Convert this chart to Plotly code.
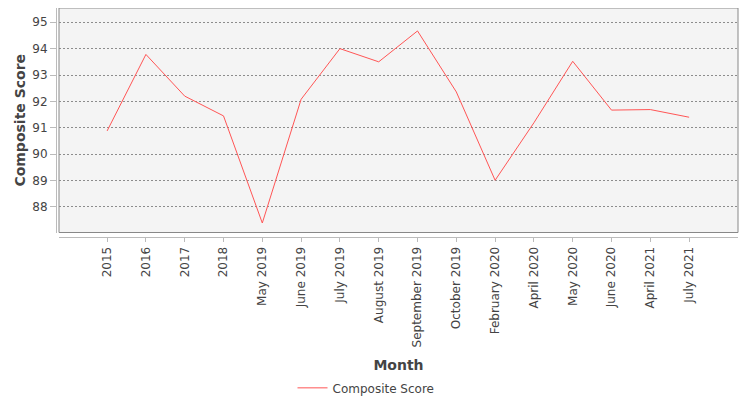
import plotly.graph_objects as go

months = ['2015', '2016', '2017', '2018', 'May 2019', 'June 2019', 'July 2019',
	'August 2019', 'September 2019', 'October 2019', 'February 2020', 'April 2020',
	'May 2020', 'June 2020', 'April 2021', 'July 2021']
composite_score = [90.88, 93.78, 92.2, 91.45, 87.39, 92.08, 94.0, 93.5, 94.67,
	92.36, 89.01, 91.19, 93.52, 91.67, 91.69, 91.4]

FONT = 'DejaVu Sans'

fig = go.Figure()
fig.add_trace(go.Scatter(
	x = months, y = composite_score,
	mode = 'lines', name = 'Composite Score',
	line = dict(color = '#ff5555', width = 1),
))

# page body has an 8px margin, so the figure is a bit smaller than the window
fig.update_layout(
	width = 742, height = 392,
	margin = dict(l = 48, r = 12, t = 0, b = 162.5),
	paper_bgcolor = 'white',
	plot_bgcolor = '#f4f4f4',
	font = dict(family = FONT, size = 12, color = '#444'),
	showlegend = True,
	legend = dict(
		orientation = 'h', xref = 'container', yref = 'container',
		x = 0.4825, xanchor = 'center', y = 0.031, yanchor = 'middle',
		font = dict(family = FONT, size = 12, color = '#444'),
		itemwidth = 30,
	),
	xaxis = dict(
		type = 'category', range = [-1.24, 16.26], automargin = False,
		domain = [0.0044, 1], anchor = 'free', position = 0,
		showgrid = False, zeroline = False,
		showline = True, linecolor = '#bbbbbb', linewidth = 1,
		ticks = 'outside', ticklen = 4, tickcolor = '#bbbbbb',
		tickangle = -90, tickfont = dict(family = FONT, size = 12, color = '#444'),
		title = dict(text = 'Month', standoff = 14,
			font = dict(family = FONT, size = 14, color = '#444', weight = 'bold')),
	),
	yaxis = dict(
		range = [87.03, 95.54], tickvals = [88, 89, 90, 91, 92, 93, 94, 95],
		automargin = False,
		domain = [0.0196, 1], anchor = 'free', position = 0,
		showgrid = True, gridcolor = '#8c8c8c', griddash = '2px,2px', gridwidth = 1,
		zeroline = False,
		showline = True, linecolor = '#bbbbbb', linewidth = 1,
		ticks = 'outside', ticklen = 6, tickcolor = '#bbbbbb',
		tickfont = dict(family = FONT, size = 12, color = '#444'),
		title = dict(text = 'Composite Score', standoff = 2,
			font = dict(family = FONT, size = 14, color = '#444', weight = 'bold')),
	),
)

# plot frame
fig.add_shape(type = 'rect', xref = 'x domain', yref = 'y domain',
	x0 = 0, x1 = 1, y0 = 0, y1 = 1, line = dict(color = '#888', width = 1), layer = 'above')

fig.write_html('out.html')
